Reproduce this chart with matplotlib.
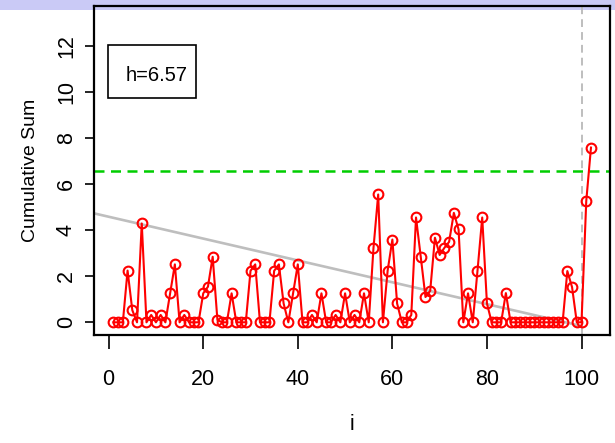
#
# Cumulative sum chart with threshold h and the fitted trend line.
#

import numpy as np
import matplotlib.pyplot as plt
from matplotlib.patches import Rectangle


# cumulative sum at each observation i = 1..102
cusum = [0, 0, 0, 2.25, 0.53, 0, 4.30, 0, 0.32, 0,
         0.32, 0, 1.26, 2.52, 0, 0.32, 0, 0, 0, 1.26,
         1.55, 2.85, 0.10, 0, 0, 1.26, 0, 0, 0, 2.24,
         2.52, 0, 0, 0, 2.24, 2.52, 0.82, 0, 1.26, 2.52,
         0, 0, 0.32, 0, 1.26, 0, 0, 0.32, 0, 1.26,
         0, 0.32, 0, 1.26, 0, 3.22, 5.56, 0, 2.25, 3.60,
         0.82, 0, 0, 0.32, 4.56, 2.85, 1.10, 1.37, 3.68, 2.93,
         3.24, 3.50, 4.76, 4.04, 0, 1.26, 0, 2.24, 4.56, 0.82,
         0, 0, 0, 1.27, 0, 0, 0, 0, 0, 0,
         0, 0, 0, 0, 0, 0, 2.23, 1.53, 0, 0,
         5.27, 7.60]

h = 6.57
change_point = 100

# straight trend line, given by its two end points
trend_x = [-5, 100]
trend_y = [4.83, -0.16]

i = np.arange(1, len(cusum) + 1)

narrow = ['Liberation Sans Narrow', 'Liberation Sans']
plt.rcParams['font.family'] = ['Liberation Sans', 'DejaVu Sans']

fig = plt.figure(figsize=(6.15, 4.43), dpi=100)
fig.patches.append(Rectangle((0, 0.977), 1, 0.023, transform=fig.transFigure,
                             facecolor='#CACAF6', edgecolor='none', zorder=-5))

ax = fig.add_axes([0.1533, 0.2449, 0.8387, 0.7422])
ax.set_facecolor('none')

ax.plot(trend_x, trend_y, color='#BEBEBE', lw=1.9, zorder=2)
ax.axhline(h, color='#00CD00', lw=1.8, ls=(0, (4, 2.6)), zorder=2)
ax.axvline(change_point, color='#BEBEBE', lw=1.4, ls=(0, (4, 2.6)), zorder=2)
ax.plot(i, cusum, color='red', lw=1.5, marker='o', markersize=7,
        markerfacecolor='none', markeredgewidth=1.5, zorder=3)

ax.set_xlim(-3.04, 106.04)
ax.set_ylim(-0.53, 13.77)

ax.set_xticks([0, 20, 40, 60, 80, 100])
ax.set_yticks([0, 2, 4, 6, 8, 10, 12])
ax.set_xticklabels(['0', '20', '40', '60', '80', '100'], family=narrow, fontsize=15.5)
ax.set_yticklabels(['0', '2', '4', '6', '8', '10', '12'], fontsize=15.5,
                   rotation=90, va='center')
ax.tick_params(axis='x', direction='out', length=10, width=1.2, pad=15)
ax.tick_params(axis='y', direction='out', length=6.5, width=1.2, pad=6)

for s in ax.spines.values():
    s.set_linewidth(1.6)

ax.set_xlabel('i', family=narrow, fontsize=15.5, labelpad=17)
ax.set_ylabel('Cumulative Sum', fontsize=14, labelpad=12)

# legend-style box with the threshold
ax.add_patch(Rectangle((0.026, 0.718), 0.171, 0.162, transform=ax.transAxes,
                       facecolor='white', edgecolor='black', lw=1.2, zorder=4))
ax.text(0.181, 0.787, 'h=6.57', transform=ax.transAxes, ha='right', va='center',
        family=narrow, fontsize=14.5, zorder=5)

plt.savefig('out.png', dpi=100)
